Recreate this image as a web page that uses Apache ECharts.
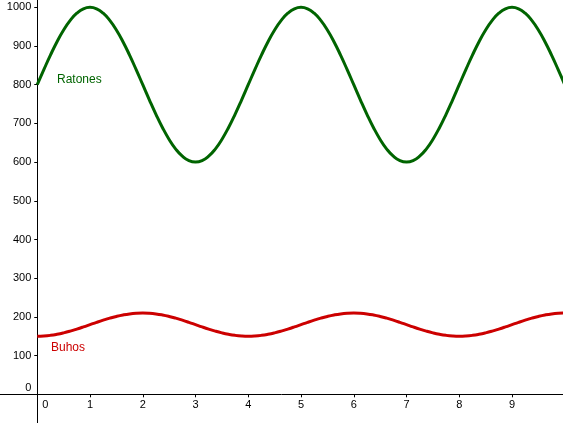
<!DOCTYPE html>
<html>
<head>
<meta charset="utf-8">
<script src="https://cdn.jsdelivr.net/npm/echarts@6/dist/echarts.min.js"></script>
<style>html,body{margin:0;padding:0;background:#fff;}#c{width:563px;height:423px;}</style>
</head>
<body>
<div id="c"></div>
<script>
var xs = [0,0.125,0.25,0.375,0.5,0.625,0.75,0.875,1,1.125,1.25,1.375,1.5,1.625,1.75,1.875,
          2,2.125,2.25,2.375,2.5,2.625,2.75,2.875,3,3.125,3.25,3.375,3.5,3.625,3.75,3.875,
          4,4.125,4.25,4.375,4.5,4.625,4.75,4.875,5,5.125,5.25,5.375,5.5,5.625,5.75,5.875,
          6,6.125,6.25,6.375,6.5,6.625,6.75,6.875,7,7.125,7.25,7.375,7.5,7.625,7.75,7.875,
          8,8.125,8.25,8.375,8.5,8.625,8.75,8.875,9,9.125,9.25,9.375,9.5,9.625,9.75,9.875,10];
var ratones = [800,839,876.5,911.1,941.4,966.3,984.8,996.2,1000,996.2,984.8,966.3,941.4,911.1,876.5,839,
               800,761,723.5,688.9,658.6,633.7,615.2,603.8,600,603.8,615.2,633.7,658.6,688.9,723.5,761,
               800,839,876.5,911.1,941.4,966.3,984.8,996.2,1000,996.2,984.8,966.3,941.4,911.1,876.5,839,
               800,761,723.5,688.9,658.6,633.7,615.2,603.8,600,603.8,615.2,633.7,658.6,688.9,723.5,761,
               800,839,876.5,911.1,941.4,966.3,984.8,996.2,1000,996.2,984.8,966.3,941.4,911.1,876.5,839,800];
var buhos = [150,150.6,152.3,155.1,158.8,163.3,168.5,174.1,180,185.9,191.5,196.7,201.2,204.9,207.7,209.4,
             210,209.4,207.7,204.9,201.2,196.7,191.5,185.9,180,174.1,168.5,163.3,158.8,155.1,152.3,150.6,
             150,150.6,152.3,155.1,158.8,163.3,168.5,174.1,180,185.9,191.5,196.7,201.2,204.9,207.7,209.4,
             210,209.4,207.7,204.9,201.2,196.7,191.5,185.9,180,174.1,168.5,163.3,158.8,155.1,152.3,150.6,
             150,150.6,152.3,155.1,158.8,163.3,168.5,174.1,180,185.9,191.5,196.7,201.2,204.9,207.7,209.4,210];
var names = ['Ratones','Buhos'];
var colors = ['#006400','#cc0000'];

function pairs(v){ return xs.map(function(x,i){ return [x, v[i]]; }); }

var chart = echarts.init(document.getElementById('c'), null, {renderer:'canvas'});
var font = 'Liberation Sans, Arial, sans-serif';
chart.setOption({
  animation:false,
  backgroundColor:'#ffffff',
  grid:{left:-15.5, right:-1.75, top:-31.4, bottom:-10, containLabel:false, outerBoundsMode:'none'},
  xAxis:{
    type:'value', min:-1, max:10, interval:1, position:'bottom', offset:-38.7,
    axisLine:{show:true, onZero:false, lineStyle:{color:'#000', width:1}},
    axisTick:{show:true, length:3, lineStyle:{color:'#000'}},
    splitLine:{show:false},
    axisLabel:{
      color:'#000', fontSize:11, fontFamily:font, margin:5,
      showMinLabel:false, showMaxLabel:false,
      formatter:function(v){ return v===0 ? '{z|0}' : String(v); },
      rich:{z:{fontSize:11, fontFamily:font, color:'#000', padding:[0,0,0,16]}}
    }
  },
  yAxis:{
    type:'value', min:-100, max:1100, interval:100, position:'left', offset:-52.75,
    axisLine:{show:true, onZero:false, lineStyle:{color:'#000', width:1}},
    axisTick:{show:true, length:3, lineStyle:{color:'#000'}},
    splitLine:{show:false},
    axisLabel:{
      color:'#000', fontSize:11, fontFamily:font, margin:6,
      showMinLabel:false, showMaxLabel:false,
      formatter:function(v){ return v===0 ? '{z|0}' : String(v); },
      rich:{z:{fontSize:11, fontFamily:font, color:'#000', padding:[0,0,12,0]}}
    }
  },
  series:[
    {
      name:names[0], type:'line', data:pairs(ratones), smooth:true, showSymbol:false, clip:true,
      lineStyle:{color:colors[0], width:3},
      markPoint:{symbol:'circle', symbolSize:0, data:[{coord:[0.374, 812]}],
        label:{show:true, position:'right', distance:0, formatter:names[0], color:colors[0], fontSize:12, fontFamily:font}}
    },
    {
      name:names[1], type:'line', data:pairs(buhos), smooth:true, showSymbol:false, clip:true,
      lineStyle:{color:colors[1], width:3},
      markPoint:{symbol:'circle', symbolSize:0, data:[{coord:[0.26, 120]}],
        label:{show:true, position:'right', distance:0, formatter:names[1], color:colors[1], fontSize:12, fontFamily:font}}
    }
  ]
});
</script>
</body>
</html>
